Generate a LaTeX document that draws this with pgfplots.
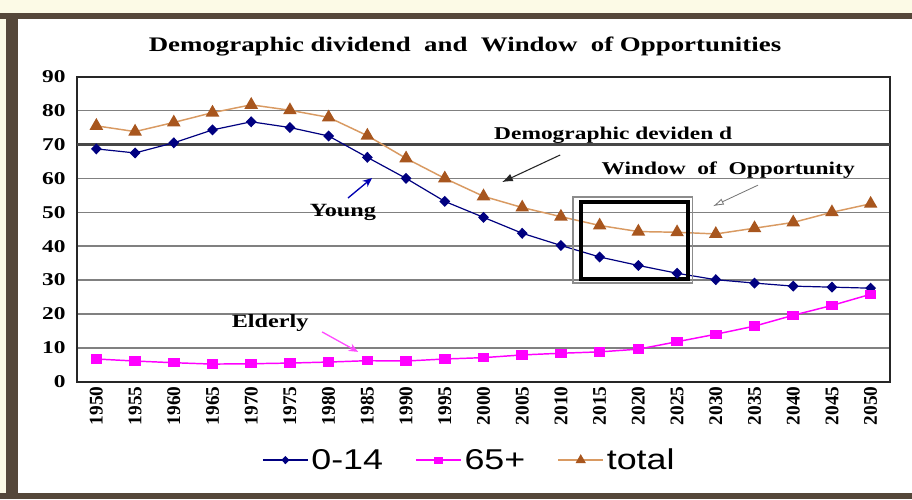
\documentclass[border=0pt]{standalone}
\usepackage{fontspec}
\setmainfont{Liberation Serif}
\newfontfamily\serifS[FakeStretch=1.3]{Liberation Serif}
\newfontfamily\sansS[FakeStretch=1.25]{Liberation Sans}
\usepackage{pgfplots}
\pgfplotsset{compat=1.18}
\usetikzlibrary{arrows.meta}
\definecolor{navy}{HTML}{000080}
\definecolor{mag}{HTML}{FF00FF}
\definecolor{brownmark}{HTML}{A8561E}
\definecolor{brownline}{HTML}{D99A62}
\definecolor{cream}{HTML}{FCFAE6}
\definecolor{framebrown}{HTML}{55473A}
\begin{document}
\begin{tikzpicture}
\begin{scope}[x=0.75pt,y=-0.75pt]
\fill[cream] (0,0) rectangle (912,499);
\fill[framebrown] (0,13) rectangle (912,19);
\fill[framebrown] (6,13) rectangle (18,499);
\fill[framebrown] (0,493) rectangle (912,499);
\fill[white] (18,19) rectangle (912,493);
\node[font=\serifS\bfseries\fontsize{15.5}{18}\selectfont] at (465,47) {Demographic dividend\ \ and\ \ Window\ \ of Opportunities};
\end{scope}
\begin{axis}[
  at={(57.75pt,-286.275pt)}, anchor=south west,
  scale only axis, width=609.75pt, height=228.75pt,
  xmin=-0.5, xmax=20.5, ymin=0, ymax=90,
  xtick={0,...,20},
  xticklabels={1950,1955,1960,1965,1970,1975,1980,1985,1990,1995,2000,2005,2010,2015,2020,2025,2030,2035,2040,2045,2050},
  xticklabel style={rotate=90, anchor=east, font=\bfseries\fontsize{14.5}{16}\selectfont},
  ytick={0,10,...,90},
  yticklabel style={font=\serifS\bfseries\fontsize{13.5}{15}\selectfont, xshift=-5pt},
  /pgf/number format/assume math mode=true,
  ymajorgrids, grid style={black!50, line width=1.1pt},
  major tick length=0pt,
  axis line style={draw=black!85, line width=1.6pt},
  clip=false,
  legend columns=3,
  legend style={draw=none, fill=none, at={(0.483,-0.257)}, anchor=center,
    font=\sansS\fontsize{21.5}{24}\selectfont,
    /tikz/every even column/.append style={column sep=22pt}},
  legend image code/.code={\draw[mark repeat=2,mark phase=2, every mark/.append style={scale=0.7}] plot coordinates {(0pt,0pt)(17pt,0pt)(34pt,0pt)};},
]
\draw[black!72, line width=2.4pt] (axis cs:-0.5,70) -- (axis cs:20.5,70);
\addplot[navy, line width=0.9pt, mark=diamond*, mark size=3.5pt, mark options={fill=navy, xscale=1.3}]
  coordinates {(0,68.7)(1,67.5)(2,70.5)(3,74.3)(4,76.7)(5,75)(6,72.5)(7,66.2)(8,60)(9,53.2)(10,48.5)(11,43.8)(12,40.2)(13,36.8)(14,34.3)(15,32)(16,30.1)(17,29.1)(18,28.2)(19,27.9)(20,27.6)};
\addlegendentry{0-14}
\addplot[mag, line width=1.1pt, mark=square*, mark size=3pt, mark options={fill=mag, xscale=1.25}]
  coordinates {(0,6.7)(1,6.1)(2,5.6)(3,5.2)(4,5.3)(5,5.5)(6,5.8)(7,6.2)(8,6.1)(9,6.7)(10,7.1)(11,7.9)(12,8.4)(13,8.8)(14,9.6)(15,11.8)(16,14)(17,16.4)(18,19.6)(19,22.5)(20,25.8)};
\addlegendentry{65+}
\addplot[brownline, line width=1.1pt, mark=triangle*, mark size=4.8pt, mark options={fill=brownmark, draw=brownmark}]
  coordinates {(0,75.5)(1,73.8)(2,76.5)(3,79.4)(4,81.7)(5,80.1)(6,78)(7,72.6)(8,65.9)(9,60)(10,54.7)(11,51.4)(12,48.7)(13,46.1)(14,44.3)(15,44.1)(16,43.6)(17,45.3)(18,47)(19,50)(20,52.5)};
\addlegendentry{total}
\draw[black!45, line width=1pt] (axis cs:12.31,29.1) rectangle (axis cs:15.39,54.5);
\draw[black, line width=3pt] (axis cs:12.52,30.2) rectangle (axis cs:15.28,53.0);
\node[font=\serifS\bfseries\fontsize{13.5}{15}\selectfont] at (axis cs:13.35,72.8) {Demographic deviden d};
\draw[black!85, line width=0.8pt, -{Latex[length=8pt,width=6pt]}] (axis cs:11.98,66.9) -- (axis cs:10.48,58.9);
\node[font=\serifS\bfseries\fontsize{13.5}{15}\selectfont] at (axis cs:16.32,62.5) {Window\ \ of\ \ Opportunity};
\draw[black!55, line width=0.6pt, -{Latex[open,length=8pt,width=5pt]}] (axis cs:17.09,58.0) -- (axis cs:15.93,51.8);
\node[font=\serifS\bfseries\fontsize{14}{16}\selectfont] at (axis cs:6.37,50.0) {Young};
\draw[blue!70!black, line width=1pt, -{Stealth[length=7pt,width=6pt]}] (axis cs:6.5,54.2) -- (axis cs:7.12,60.1);
\node[font=\serifS\bfseries\fontsize{14}{16}\selectfont] at (axis cs:4.49,17.3) {Elderly};
\draw[mag!70!white, line width=1pt, -{Stealth[length=7pt,width=6pt]}] (axis cs:5.83,14.7) -- (axis cs:6.76,8.8);
\end{axis}
\pgfresetboundingbox
\path[use as bounding box] (0,0) rectangle (684pt,-374.25pt);
\end{tikzpicture}
\end{document}
